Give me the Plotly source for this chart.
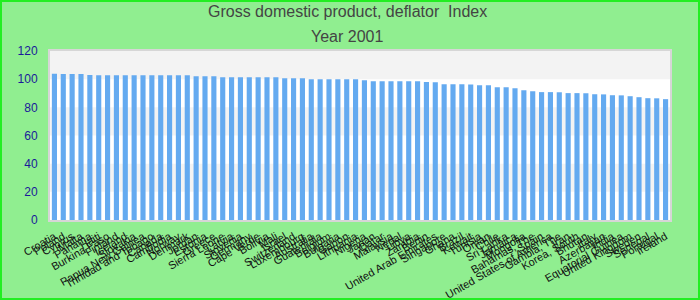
import plotly.graph_objects as go

countries = [
    "Croatia", "Poland", "Cyprus", "Malta", "Panama", "Haiti", "Burkina Faso", "Finland",
    "Iceland", "Slovakia", "Papua New Guinea", "Trinidad and Tobago", "Canada", "Cambodia", "Norway",
    "Denmark", "Jordan", "Estonia", "Greece", "Sierra Leone", "Latvia", "Slovenia", "Germany",
    "Cape Verde", "Bolivia", "Mali", "Israel", "Switzerland", "Luxembourg", "Australia",
    "Guatemala", "Belgium", "Bulgaria", "Gabon", "Lithuania", "Nigeria", "Japan", "Qatar", "Malaysia",
    "Nepal", "Libya", "Zambia", "Benin", "United Arab Emirates", "Singapore", "Ghana", "Brazil",
    "Kuwait", "Tunisia", "Oman", "Chile", "Sri Lanka", "Jamaica", "Mongolia",
    "Bahamas, The", "Spain", "United States of America", "Gambia, The", "Iran", "Korea, South", "Bhutan",
    "Italy", "Azerbaijan", "India", "Equatorial Guinea", "United Kingdom", "Sweden", "Senegal", "Portugal", "Ireland",
]
values = [
    103.8, 103.7, 103.6, 103.6, 102.9, 102.8, 102.8, 102.8, 102.8, 102.8, 102.8, 102.8,
    102.8, 102.8, 102.8, 102.7, 102.1, 102.1, 102.1, 101.4, 101.4, 101.4, 101.4, 101.4,
    101.4, 101.3, 100.7, 100.7, 100.6, 100.0, 100.0, 100.0, 100.0, 100.0, 99.9, 99.3,
    98.6, 98.6, 98.6, 98.6, 98.6, 98.5, 97.9, 97.8, 96.4, 96.4, 96.4, 96.3, 95.7, 95.6,
    94.3, 94.2, 93.6, 92.2, 91.5, 90.8, 90.8, 90.7, 90.1, 90.1, 90.0, 89.3, 89.2, 88.6,
    88.5, 87.9, 87.2, 86.5, 86.4, 85.8,
]
title_line1 = "Gross domestic product, deflator  Index"
title_line2 = "Year 2001"
band_ranges = [(20, 40), (60, 80), (100, 120)]

W, H = 700, 300
ML, MR, MT, MB = 50, 30, 51, 80
PW, PH = W - ML - MR, H - MT - MB

def px_x(px):
    return (px - ML) / PW

def px_y(py):
    return (H - MB - py) / PH

fig = go.Figure()
fig.add_trace(go.Bar(
    x=countries, y=values,
    marker=dict(color="#64AAF0", line=dict(width=0)),
    hoverinfo="x+y",
))

shapes = []
for lo, hi in band_ranges:
    shapes.append(dict(type="rect", xref="paper", yref="y", x0=0, x1=1, y0=lo, y1=hi,
                       fillcolor="#f3f3f3", line=dict(width=0), layer="below"))
shapes.append(dict(type="rect", xref="paper", yref="paper",
                   x0=px_x(1), x1=px_x(699), y0=px_y(299), y1=px_y(1),
                   line=dict(color="#22ee22", width=2), fillcolor="rgba(0,0,0,0)", layer="above"))

fig.update_layout(
    width=W, height=H,
    margin=dict(l=ML, r=MR, t=MT, b=MB, autoexpand=False),
    paper_bgcolor="#90EE90",
    plot_bgcolor="#ffffff",
    font=dict(family="Liberation Sans, Arial, sans-serif"),
    showlegend=False,
    bargap=0.42,
    shapes=shapes,
    annotations=[
        dict(text=title_line1, xref="paper", yref="paper", x=px_x(347), y=px_y(12),
             xanchor="center", yanchor="middle", showarrow=False,
             font=dict(size=16, color="#444444")),
        dict(text=title_line2, xref="paper", yref="paper", x=px_x(347), y=px_y(36),
             xanchor="center", yanchor="middle", showarrow=False,
             font=dict(size=16, color="#444444")),
    ],
    xaxis=dict(
        type="category", tickmode="array", tickvals=countries, ticktext=countries,
        tickangle=-30, tickfont=dict(size=11, color="#111111"),
        showgrid=False, zeroline=False, automargin=False,
        showline=True, mirror=True, linecolor="#d6d6d6", linewidth=2,
        ticks="", ticklabelstandoff=4,
    ),
    yaxis=dict(
        range=[0, 120], dtick=20, tickfont=dict(size=12, color="#1a1a9a"),
        showgrid=False, zeroline=False, automargin=False,
        showline=True, mirror=True, linecolor="#d6d6d6", linewidth=2,
        ticks="", ticklabelstandoff=8,
    ),
)

fig.write_html("out.html")
